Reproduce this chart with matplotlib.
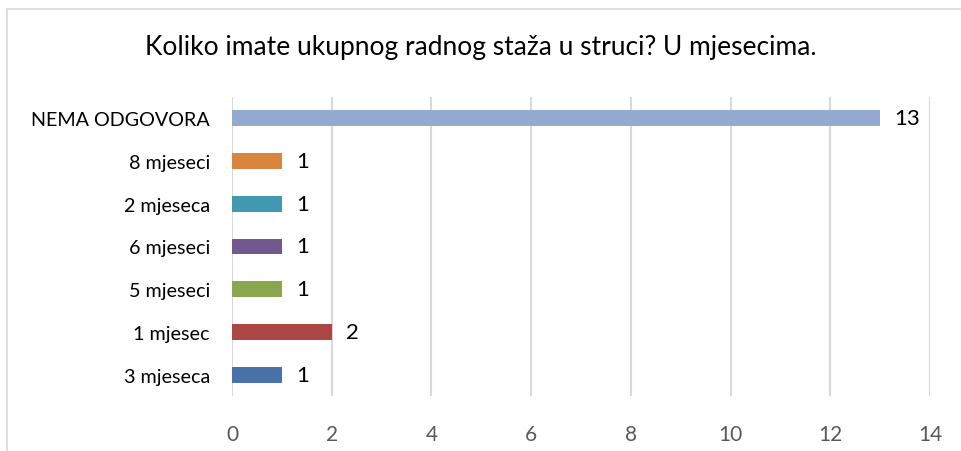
import matplotlib.pyplot as plt
from matplotlib.lines import Line2D

#-------------------------------------------------------------------------------
# Data (bottom to top)
categories = ['3 mjeseca', '1 mjesec', '5 mjeseci', '6 mjeseci', '2 mjeseca', '8 mjeseci', 'NEMA ODGOVORA']
values     = [1, 2, 1, 1, 1, 1, 13]
colors     = ['#4A72A8', '#AA4744', '#8AA64F', '#71598F', '#4198B0', '#DB843D', '#93A9D0']
xticks     = [0, 2, 4, 6, 8, 10, 12, 14]
title      = 'Koliko imate ukupnog radnog staža u struci? U mjesecima.'
#-------------------------------------------------------------------------------

plt.rcParams['font.family'] = ['Lato', 'DejaVu Sans']

fig = plt.figure(figsize=(9.62, 4.52), dpi=100)
ax  = fig.add_axes([232/962, 1 - 397.4/452, (930 - 232)/962, 299.8/452])

y = range(len(categories))
ax.barh(y, values, height=0.37, color=colors, zorder=3)

for i, v in enumerate(values):
    ax.annotate(str(v), (v, i), xytext=(10, 0), textcoords='offset points',
                va='center', ha='left', fontsize=16, color='black')

ax.set_xlim(0, 14)
ax.set_ylim(-0.5, len(categories) - 0.5)
ax.set_xticks(xticks)
ax.set_yticks(list(y))
ax.set_yticklabels(categories, fontsize=14.2)
ax.tick_params(axis='x', length=0, pad=20, labelsize=15, labelcolor='#595959')
ax.tick_params(axis='y', length=0, pad=16)
ax.grid(axis='x', color='#D9D9D9', linewidth=1.5, zorder=0)
for s in ax.spines.values():
    s.set_visible(False)

fig.text(0.5, 1 - 48/452, title, ha='center', va='center', fontsize=19)

# chart frame (only top and left edges fall inside the picture)
fig.lines.append(Line2D([7.5/962, 1], [1 - 9.5/452, 1 - 9.5/452], transform=fig.transFigure,
                        color='#D9D9D9', linewidth=1.2))
fig.lines.append(Line2D([7.5/962, 7.5/962], [0, 1 - 9.5/452], transform=fig.transFigure,
                        color='#D9D9D9', linewidth=1.2))

fig.savefig('out.png', dpi=100)
